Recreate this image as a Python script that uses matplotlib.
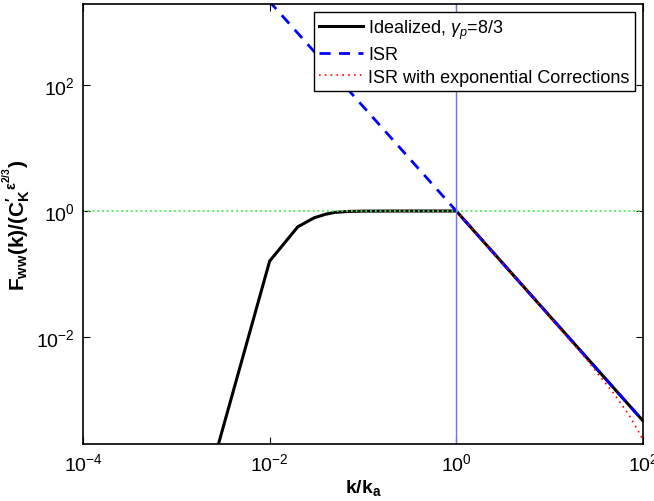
import matplotlib.pyplot as plt
import numpy as np

plt.rcParams['font.family'] = ['Liberation Sans', 'DejaVu Sans']
plt.rcParams['mathtext.fontset'] = 'custom'
plt.rcParams['mathtext.rm'] = 'Liberation Sans'
plt.rcParams['mathtext.it'] = 'Liberation Sans:italic'
plt.rcParams['mathtext.bf'] = 'Liberation Sans:bold'

# idealized spectrum, gamma_p = 8/3
k_ideal = [0.001, 0.01, 0.02, 0.03, 0.04, 0.05, 0.07, 0.1, 0.2, 0.5, 1.0, 10.0, 100.0]
f_ideal = [8e-7, 0.16, 0.56, 0.78, 0.89, 0.95, 0.985, 0.995, 0.999, 1.0, 1.0, 0.0215, 4.64e-4]

# inertial subrange, k^(-5/3)
k_isr = [0.0098, 1.0, 100.0]
f_isr = [2200.0, 1.0, 4.64e-4]

# ISR with exponential corrections
k_exp = [1.0, 3.0, 10.0, 15.5, 25.0, 35.0, 49.0, 70.0, 89.0, 100.0]
f_exp = [1.0, 0.16, 0.0213, 0.0098, 0.0044, 0.0023, 0.00125, 0.00059, 0.00032, 0.00023]

fig = plt.figure(figsize=(6.54, 5.02), dpi=100)
ax = fig.add_axes([0.127, 0.114, 0.856, 0.876])

ax.loglog(k_ideal, f_ideal, color='black', linewidth=2.2,
          label=r'Idealized, $\gamma_p$=8/3')
ax.loglog(k_isr, f_isr, color='blue', linestyle='--', linewidth=2,
          dashes=(4, 3), label='ISR')
ax.loglog(k_exp, f_exp, color='red', linestyle=':', linewidth=1.2,
          dashes=(1, 2.5), label='ISR with exponential Corrections')

ax.axhline(1.0, color='#44ee44', linestyle=':', linewidth=1.3)
ax.axvline(1.0, color='#7070ff', linewidth=1)

ax.set_xlim(1e-4, 1e2)
ax.set_ylim(10**-3.7, 10**3.29)
ax.set_xticks([1e-4, 1e-2, 1e0, 1e2])
ax.set_yticks([1e-2, 1e0, 1e2])
ax.minorticks_off()
ax.tick_params(direction='in', labelsize=14, length=5, width=0.8,
               top=True, right=True, pad=6)
for sp in ax.spines.values():
    sp.set_linewidth(1.2)

ax.set_xlabel(r'$\mathbf{k/k_a}$', fontsize=14, labelpad=2)
ax.set_ylabel(r'$\mathbf{F_{ww}(k)/(C^{\prime}_{K}{}^{\epsilon^{2/3}})}$',
              fontsize=15, labelpad=2)

leg = ax.legend(loc='upper right', fontsize=13, fancybox=False,
                framealpha=1, edgecolor='black', borderaxespad=0.45,
                handlelength=2.4, handletextpad=0.3, labelspacing=0.3,
                borderpad=0.3)
leg.get_frame().set_linewidth(1)

plt.savefig('out.png', dpi=100)
